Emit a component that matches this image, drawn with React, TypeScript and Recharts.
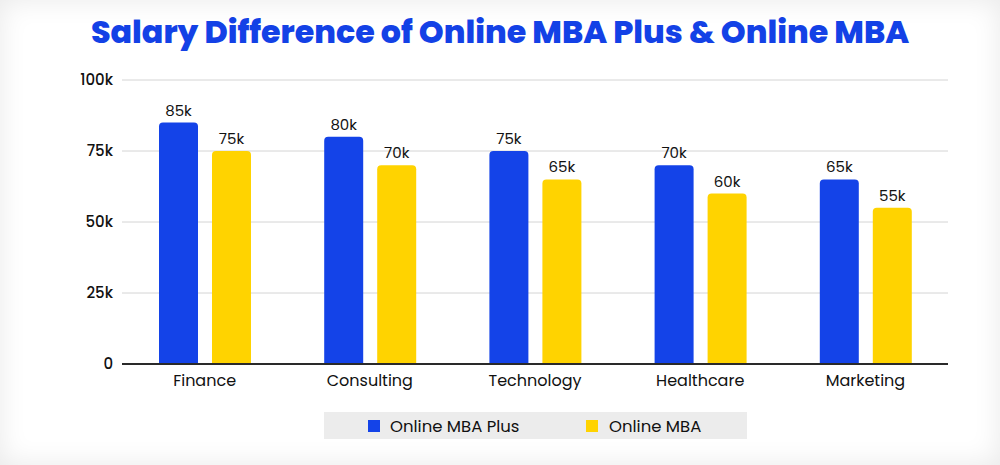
import { Bar, BarChart, CartesianGrid, LabelList, XAxis, YAxis } from "recharts";

const categories = ["Finance", "Consulting", "Technology", "Healthcare", "Marketing"];
const mbaPlus = [85, 80, 75, 70, 65];
const mba = [75, 70, 65, 60, 55];
const yTicks = [0, 25, 50, 75, 100];

const BLUE = "#1443e8";
const YELLOW = "#ffd300";
const FONT = "Poppins, 'Open Sans', sans-serif";

const data = categories.map((name, i) => ({ name, plus: mbaPlus[i], mba: mba[i] }));

const fmtK = (v: number) => (v === 0 ? "0" : `${v}k`);

export default function App() {
  return (
    <div
      style={{
        position: "absolute",
        left: 0,
        top: 0,
        width: 1000,
        height: 465,
        background: "#fff",
        boxShadow: "inset 0 0 28px rgba(0,0,0,0.09)",
        fontFamily: FONT,
        overflow: "hidden",
      }}
    >
      <div
        style={{
          position: "absolute",
          top: 9,
          left: 0,
          width: 1000,
          textAlign: "center",
          fontSize: 31.7,
          fontWeight: 800,
          color: "#1341e6",
        }}
      >
        Salary Difference of Online MBA Plus &amp; Online MBA
      </div>
      <BarChart
        width={1000}
        height={465}
        data={data}
        margin={{ top: 80, right: 52, bottom: 71, left: 0 }}
        barGap={14}
        barSize={39}
      >
        <CartesianGrid vertical={false} stroke="#d4d4d4" />
        <XAxis
          dataKey="name"
          tickLine={false}
          axisLine={{ stroke: "#2a2a2a", strokeWidth: 2 }}
          tick={{ fill: "#111", fontSize: 16, fontFamily: FONT }}
          tickMargin={5}
          height={30}
        />
        <YAxis
          domain={[0, 100]}
          ticks={yTicks}
          tickFormatter={fmtK}
          axisLine={false}
          tickLine={false}
          tick={{ fill: "#111", fontSize: 15, fontFamily: FONT, fontWeight: 500 }}
          tickMargin={3}
          width={122}
        />
        <Bar dataKey="plus" fill={BLUE} radius={[4, 4, 0, 0]} isAnimationActive={false}>
          <LabelList dataKey="plus" position="top" offset={7} formatter={(v: any) => `${v}k`} fill="#111" fontSize={15} fontFamily={FONT} />
        </Bar>
        <Bar dataKey="mba" fill={YELLOW} radius={[4, 4, 0, 0]} isAnimationActive={false}>
          <LabelList dataKey="mba" position="top" offset={7} formatter={(v: any) => `${v}k`} fill="#111" fontSize={15} fontFamily={FONT} />
        </Bar>
      </BarChart>
      <div
        style={{
          position: "absolute",
          left: 324,
          top: 412,
          width: 423,
          height: 27,
          background: "#ececec",
          fontSize: 16.5,
          color: "#111",
        }}
      >
        <span style={{ position: "absolute", left: 44, top: 8, width: 12, height: 12, background: BLUE }} />
        <span style={{ position: "absolute", left: 66, top: 2 }}>Online MBA Plus</span>
        <span style={{ position: "absolute", left: 262, top: 8, width: 12, height: 12, background: YELLOW }} />
        <span style={{ position: "absolute", left: 285, top: 2 }}>Online MBA</span>
      </div>
    </div>
  );
}
